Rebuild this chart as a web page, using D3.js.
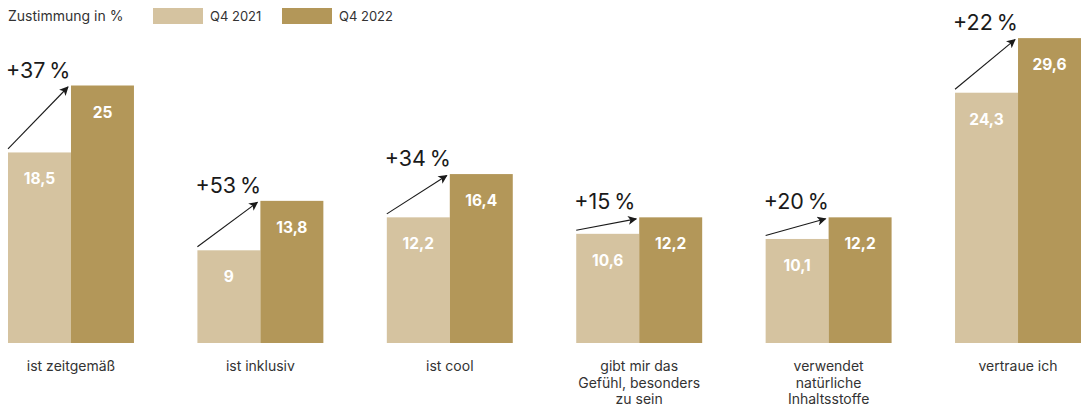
<!DOCTYPE html>
<html>
<head>
<meta charset="utf-8">
<script src="https://cdn.jsdelivr.net/npm/d3@7"></script>
<style>
  body { margin: 0; background: #fff; }
  svg { font-family: Inter, "Open Sans", sans-serif; }
</style>
</head>
<body>
<svg id="chart" width="1090" height="406"></svg>
<script>
const categories = [
  ["ist zeitgemäß"],
  ["ist inklusiv"],
  ["ist cool"],
  ["gibt mir das", "Gefühl, besonders", "zu sein"],
  ["verwendet", "natürliche", "Inhaltsstoffe"],
  ["vertraue ich"]
];
const series = ["Q4 2021", "Q4 2022"];
const q4_2021 = [18.5, 9, 12.2, 10.6, 10.1, 24.3];
const q4_2022 = [25, 13.8, 16.4, 12.2, 12.2, 29.6];
const changes = ["+37", "+53", "+34", "+15", "+20", "+22"];

const colors = ["#d5c3a0", "#b39759"];
const fmt = v => String(v).replace(".", ",");

const svg = d3.select("#chart");
const baseline = 343;

const x0 = d3.scaleBand()
  .domain(d3.range(categories.length))
  .range([8, 1081])
  .paddingInner(0.335)
  .paddingOuter(0);

const x1 = d3.scaleBand()
  .domain([0, 1])
  .range([0, x0.bandwidth()])
  .padding(0);

const y = d3.scaleLinear()
  .domain([0, 30])
  .range([baseline, baseline - 30 * 10.3]);

// pfeilspitze
svg.append("defs").append("marker")
  .attr("id", "arrow")
  .attr("viewBox", "0 0 10 10")
  .attr("refX", 9).attr("refY", 5)
  .attr("markerWidth", 11).attr("markerHeight", 9)
  .attr("markerUnits", "userSpaceOnUse")
  .attr("orient", "auto")
  .append("path")
  .attr("d", "M0,0 L10,5 L0,10 L2.5,5 Z")
  .attr("fill", "#1a1a1a");

// Legende
const legend = svg.append("g");
legend.append("text")
  .attr("x", 8).attr("y", 21)
  .attr("font-size", 14).attr("fill", "#333")
  .text("Zustimmung in %");
[153, 282].forEach((lx, i) => {
  legend.append("rect")
    .attr("x", lx).attr("y", 8)
    .attr("width", 50).attr("height", 16)
    .attr("fill", colors[i]);
  legend.append("text")
    .attr("x", lx + 57).attr("y", 21)
    .attr("font-size", 13).attr("fill", "#333")
    .text(series[i]);
});

const data = categories.map((c, i) => ({ i, c, vals: [q4_2021[i], q4_2022[i]], change: changes[i] }));

const groups = svg.append("g")
  .selectAll("g")
  .data(data)
  .enter()
  .append("g")
  .attr("transform", d => `translate(${x0(d.i)},0)`);

groups.selectAll("rect")
  .data(d => d.vals.map((v, k) => ({ v, k })))
  .enter()
  .append("rect")
  .attr("x", d => x1(d.k))
  .attr("y", d => y(d.v))
  .attr("width", x1.bandwidth())
  .attr("height", d => baseline - y(d.v))
  .attr("fill", d => colors[d.k]);

groups.selectAll("text.val")
  .data(d => d.vals.map((v, k) => ({ v, k })))
  .enter()
  .append("text")
  .attr("class", "val")
  .attr("x", d => x1(d.k) + x1.bandwidth() / 2)
  .attr("y", d => y(d.v) + 32)
  .attr("text-anchor", "middle")
  .attr("font-size", 15.5)
  .attr("font-weight", 700)
  .attr("fill", "#fff")
  .text(d => fmt(d.v));

// Pfeile
groups.append("line")
  .attr("x1", x1(0))
  .attr("y1", d => y(d.vals[0]) - 3.5)
  .attr("x2", x1(1) - 3)
  .attr("y2", d => y(d.vals[1]) + 1.5)
  .attr("stroke", "#1a1a1a")
  .attr("stroke-width", 1.1)
  .attr("marker-end", "url(#arrow)");

groups.append("text")
  .attr("x", x1(0) - 2)
  .attr("y", d => y(d.vals[1]) - 8)
  .attr("font-size", 21.5)
  .attr("fill", "#1a1a1a")
  .text(d => d.change + "\u2009%");

// Kategorien
groups.append("text")
  .attr("text-anchor", "middle")
  .attr("font-size", 14)
  .attr("fill", "#333")
  .selectAll("tspan")
  .data(d => d.c)
  .enter()
  .append("tspan")
  .attr("x", x0.bandwidth() / 2)
  .attr("y", (d, j) => 371 + j * 16.7)
  .text(d => d);
</script>
</body>
</html>
